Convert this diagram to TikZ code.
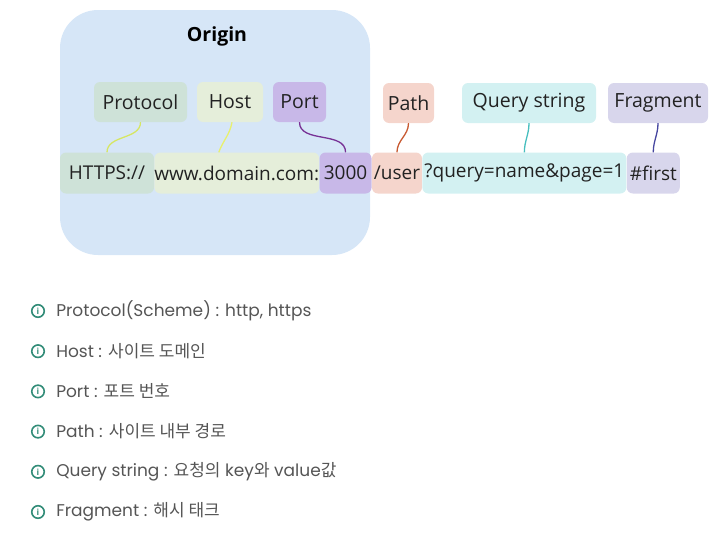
\documentclass[tikz,border=0pt]{standalone}
\usepackage{fontspec}
\setmainfont{Open Sans}
\newfontfamily\listfont{Poppins}
\newfontfamily\krfont{Noto Sans CJK KR}
\usetikzlibrary{positioning}

\definecolor{originbg}{RGB}{214,230,247}
\definecolor{protobg}{RGB}{206,226,216}
\definecolor{hostbg}{RGB}{229,238,218}
\definecolor{portbg}{RGB}{200,184,232}
\definecolor{pathbg}{RGB}{245,213,204}
\definecolor{querybg}{RGB}{211,241,242}
\definecolor{fragbg}{RGB}{216,214,236}
\definecolor{protoline}{RGB}{214,230,100}
\definecolor{hostline}{RGB}{232,240,110}
\definecolor{portline}{RGB}{120,50,150}
\definecolor{pathline}{RGB}{200,90,50}
\definecolor{queryline}{RGB}{70,190,190}
\definecolor{fragline}{RGB}{70,70,160}
\definecolor{listgray}{RGB}{85,85,85}
\definecolor{infoteal}{RGB}{50,140,120}
\definecolor{inkgray}{RGB}{34,34,34}

\begin{document}
\begin{tikzpicture}[
  x=1pt, y=-1pt,
  tag/.style={rounded corners=6pt, minimum height=40pt, inner xsep=3pt, text=inkgray, font=\fontsize{19.5}{22}\selectfont},
  part/.style={rounded corners=6pt, minimum height=41pt, inner xsep=0pt, text=inkgray, font=\fontsize{19}{22}\selectfont},
  conn/.style={line width=1.3pt},
  info/.style={circle, draw=infoteal, line width=1.6pt, minimum size=12.5pt, inner sep=0pt, text=infoteal, font=\bfseries\fontsize{8.5}{8.5}\selectfont},
  item/.style={anchor=west, inner sep=0pt, text=listgray, font=\listfont\fontsize{17}{20}\selectfont},
  node distance=0pt
]
\useasboundingbox (0,0) rectangle (717,533);

% origin area
\node[fill=originbg, rounded corners=38pt, minimum width=310pt, minimum height=245pt] (origin) at (215,132.5) {};
\node[font=\bfseries\fontsize{19.5}{22}\selectfont, text=black] (origintitle) at (217,36) {Origin};

% url parts
\node[part, fill=protobg, minimum width=94pt] (https) at (107,173) {HTTPS://};
\node[part, fill=hostbg, minimum width=164pt, right=of https] (domain) {www.domain.com:};
\node[part, fill=portbg, minimum width=52pt, right=of domain] (port) {3000};
\node[part, fill=pathbg, minimum width=50pt, right=of port] (path) {/user};
\node[part, fill=querybg, minimum width=204pt, right=of path] (query) {?query=name\&page=1};
\node[part, fill=fragbg, minimum width=53pt, right=of query] (frag) {\#first};

% labels
\node[tag, fill=protobg, minimum width=93pt] (protolabel) at (140.5,102) {Protocol};
\node[tag, fill=hostbg, minimum width=66pt] (hostlabel) at (230,102) {Host};
\node[tag, fill=portbg, minimum width=53pt] (portlabel) at (299.5,102) {Port};
\node[tag, fill=pathbg, minimum width=51pt] (pathlabel) at (408.5,103) {Path};
\node[tag, fill=querybg, minimum width=134pt] (querylabel) at (529,103) {Query string};
\node[tag, fill=fragbg, minimum width=100pt] (fraglabel) at (658,103) {Fragment};

% connectors
\draw[conn, protoline] (protolabel.south) to[out=-90, in=90] (https.north);
\draw[conn, hostline] ([xshift=2pt]hostlabel.south) to[out=-100, in=70] ([xshift=-18pt]domain.north);
\draw[conn, portline] (portlabel.south) to[out=-90, in=90] (port.north);
\draw[conn, pathline] (pathlabel.south) to[out=-90, in=90] (path.north);
\draw[conn, queryline] (querylabel.south) to[out=-90, in=90] (query.north);
\draw[conn, fragline] (fraglabel.south) to[out=-90, in=90] (frag.north);

% list
\node[info] (i1) at (38,311) {i};
\node[item, right=11pt of i1] (t1) {Protocol(Scheme) : http, https};
\node[info, below=26.1pt of i1] (i2) {i};
\node[item, right=11pt of i2] (t2) {Host : {\krfont 사이트 도메인}};
\node[info, below=26.1pt of i2] (i3) {i};
\node[item, right=11pt of i3] (t3) {Port : {\krfont 포트 번호}};
\node[info, below=26.1pt of i3] (i4) {i};
\node[item, right=11pt of i4] (t4) {Path : {\krfont 사이트 내부 경로}};
\node[info, below=26.1pt of i4] (i5) {i};
\node[item, right=11pt of i5] (t5) {Query string : {\krfont 요청의} key{\krfont 와} value{\krfont 값}};
\node[info, below=26.1pt of i5] (i6) {i};
\node[item, right=11pt of i6] (t6) {Fragment : {\krfont 해시 태크}};
\end{tikzpicture}
\end{document}
